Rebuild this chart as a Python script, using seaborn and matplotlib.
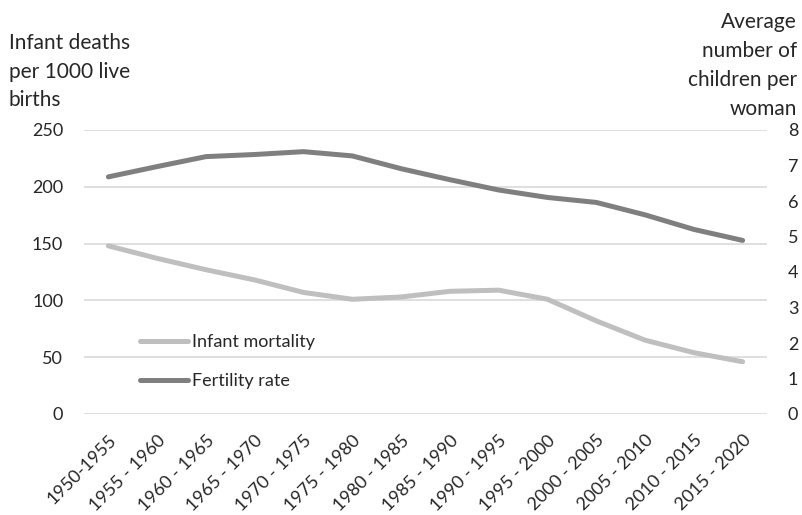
import matplotlib
matplotlib.use("Agg")
import matplotlib.pyplot as plt
import seaborn as sns
import pandas as pd

periods = ["1950-1955", "1955 - 1960", "1960 - 1965", "1965 - 1970", "1970 - 1975",
           "1975 - 1980", "1980 - 1985", "1985 - 1990", "1990 - 1995", "1995 - 2000",
           "2000 - 2005", "2005 - 2010", "2010 - 2015", "2015 - 2020"]
infant_mortality = [148, 137, 127, 118, 107, 101, 103, 108, 109, 101, 82, 65, 54, 46]
fertility_rate = [6.68, 6.97, 7.25, 7.31, 7.39, 7.27, 6.91, 6.60, 6.31, 6.10, 5.96, 5.61, 5.20, 4.89]
left_title = ["Infant deaths", "per 1000 live", "births"]
right_title = ["Average", "number of", "children per", "woman"]

sns.set_style("white")
plt.rcParams['font.family'] = ['Lato', 'DejaVu Sans']

df = pd.DataFrame({"x": range(len(periods)), "im": infant_mortality, "fr": fertility_rate})

W, H = 803, 515
fig = plt.figure(figsize=(W / 100, H / 100), dpi=100)
ax = fig.add_axes([84 / W, 1 - 414 / H, (767 - 84) / W, (414 - 130) / H])
ax2 = ax.twinx()

c_im = "#BFBFBF"
c_fr = "#7F7F7F"
txt = "#262626"
sns.lineplot(data=df, x="x", y="im", ax=ax, color=c_im, linewidth=3.6, label="Infant mortality", legend=False)
sns.lineplot(data=df, x="x", y="fr", ax=ax2, color=c_fr, linewidth=3.6, label="Fertility rate", legend=False)

ax.set_ylim(0, 250)
ax2.set_ylim(0, 8)
ax.set_yticks([0, 50, 100, 150, 200, 250])
ax2.set_yticks(range(0, 9))
ax.set_xlim(-0.5, len(periods) - 0.5)
ax.set_xticks(range(len(periods)))
ax.set_xticklabels(periods, rotation=45, ha="right", rotation_mode="anchor", fontsize=13, color=txt)
ax.yaxis.grid(True, color="#D9D9D9", linewidth=1.2)
ax.set_axisbelow(True)
for a in (ax, ax2):
    for s in a.spines.values():
        s.set_visible(False)
    a.tick_params(length=0)
    a.set_xlabel("")
    a.set_ylabel("")
ax.tick_params(axis="y", labelsize=13, labelcolor=txt, pad=15)
ax2.tick_params(axis="y", labelsize=13, labelcolor=txt, pad=15)
ax.tick_params(axis="x", pad=13)

for i, line in enumerate(left_title):
    fig.text(9 / W, 1 - (49 + 28.7 * i) / H, line, ha="left", va="baseline", fontsize=15, color=txt)
for i, line in enumerate(right_title):
    fig.text(797 / W, 1 - (28 + 29 * i) / H, line, ha="right", va="baseline", fontsize=15, color=txt)

h1, l1 = ax.get_legend_handles_labels()
h2, l2 = ax2.get_legend_handles_labels()
leg = fig.legend(h1 + h2, l1 + l2, loc="upper left", bbox_to_anchor=(140 / W, 1 - 334 / H),
                 bbox_transform=fig.transFigure, frameon=False, borderpad=0, borderaxespad=0,
                 fontsize=13, handlelength=2.65, handletextpad=0.25, labelspacing=1.3)
for t in leg.get_texts():
    t.set_color(txt)

fig.savefig("out.png", dpi=100)
